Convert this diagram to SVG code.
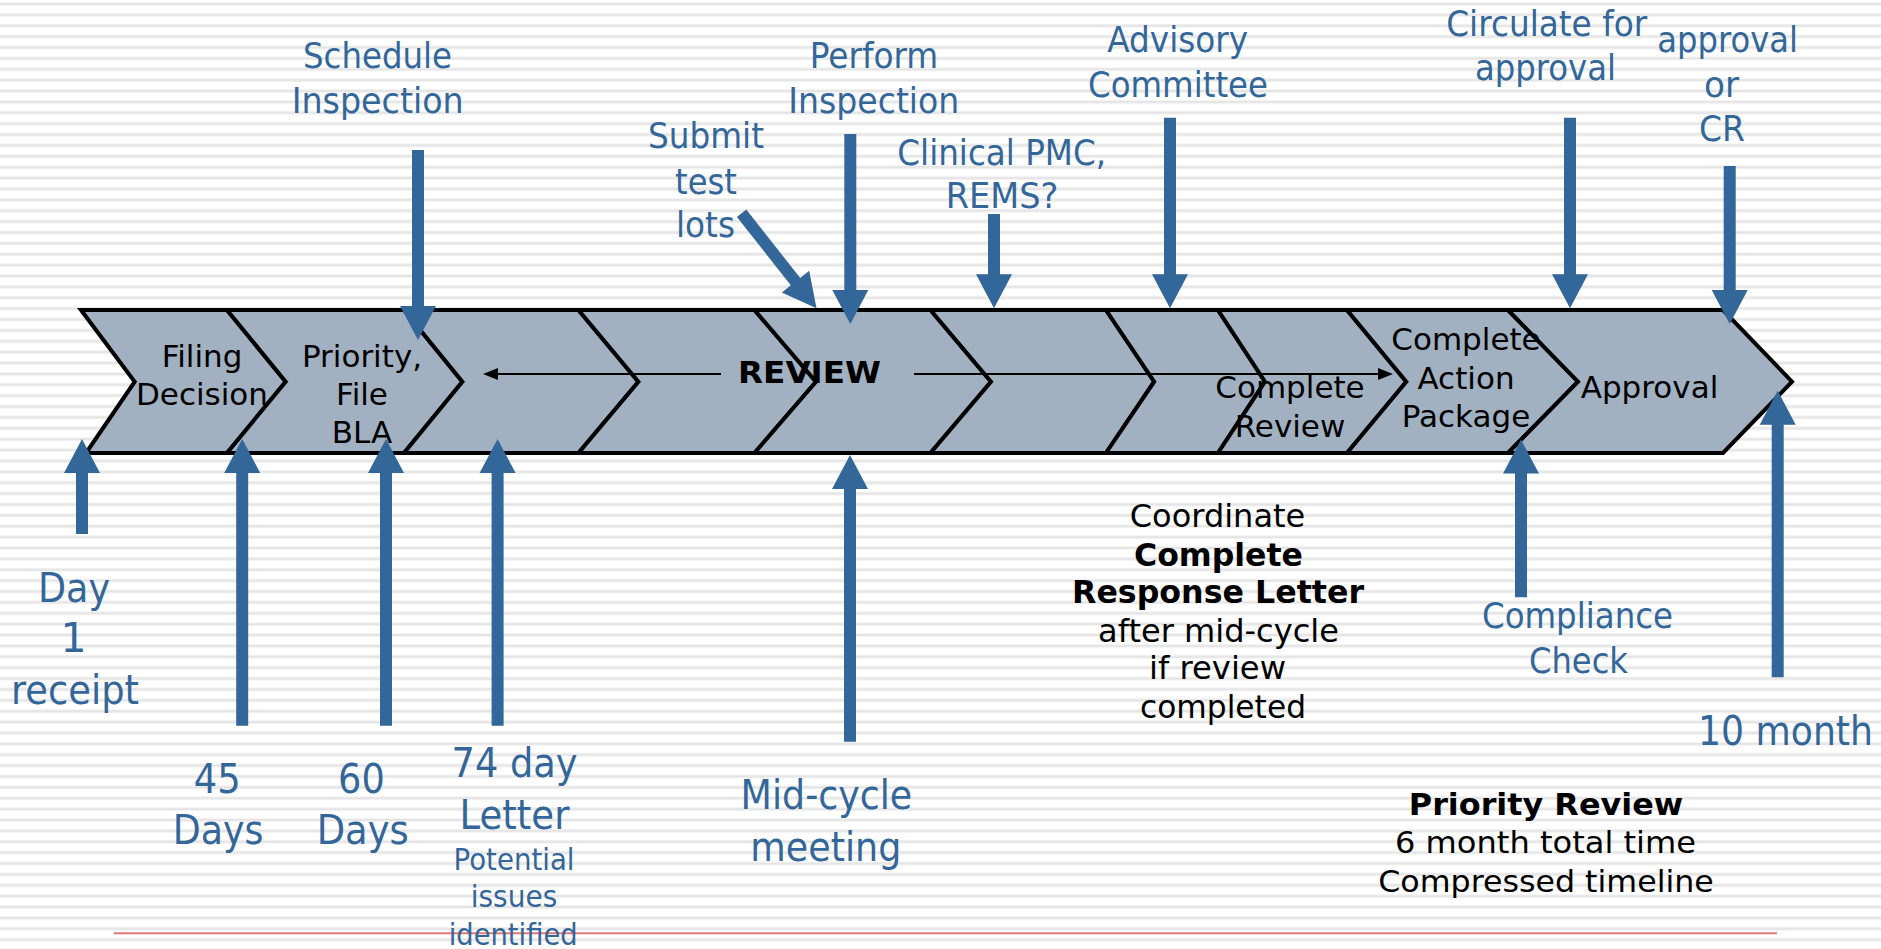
<svg xmlns="http://www.w3.org/2000/svg" width="1881" height="949" viewBox="0 0 1881 949">
<defs>
<pattern id="stripes" x="0" y="0" width="40" height="10.88" patternUnits="userSpaceOnUse">
<rect x="0" y="2.4" width="40" height="3.2" fill="#ebebeb"/>
<rect x="0" y="3.5" width="40" height="1" fill="#e0e0e0"/>
</pattern>
<style>
.chev{fill:#a2b1c1;stroke:#000;stroke-width:4;stroke-linejoin:miter}
.ct{font-family:"DejaVu Sans","Liberation Sans",sans-serif;font-size:31px;fill:#000;text-anchor:middle}
.bl{font-family:"DejaVu Sans","Liberation Sans",sans-serif;fill:#336699;text-anchor:middle}
.bk{font-family:"DejaVu Sans","Liberation Sans",sans-serif;fill:#000;text-anchor:middle}
.s36{font-size:35.5px}
.s41{font-size:41px}
.s31{font-size:31px}
.s32{font-size:32px}
.b{font-weight:bold}
.arr{fill:#336699}
.line{stroke:#000;stroke-width:2;fill:none}
</style>
</defs>
<rect width="1881" height="949" fill="#ffffff"/>
<rect width="1881" height="949" fill="url(#stripes)"/>
<line x1="114" y1="933.3" x2="1777" y2="933.3" stroke="#e07878" stroke-width="2"/>

<g id="chevrons">
<g id="c1"><polygon class="chev" points="81,310 227,310 285.7,381.7 227,453 86,453 134.7,381.7"/></g>
<g id="c2"><polygon class="chev" points="227,310 404,310 462.4,381.7 404,453 227,453 285.7,381.7"/></g>
<g id="c3"><polygon class="chev" points="404,310 578.5,310 638.4,381.7 578.5,453 404,453 462.4,381.7"/></g>
<g id="c4"><polygon class="chev" points="578.5,310 754.5,310 816,381.7 754.5,453 578.5,453 638.4,381.7"/></g>
<g id="c5"><polygon class="chev" points="754.5,310 930.5,310 991,381.7 930.5,453 754.5,453 816,381.7"/></g>
<g id="c6"><polygon class="chev" points="930.5,310 1106,310 1154.2,381.7 1106,453 930.5,453 991,381.7"/></g>
<g id="c7"><polygon class="chev" points="1106,310 1218,310 1265,381.7 1218,453 1106,453 1154.2,381.7"/></g>
<g id="c8"><polygon class="chev" points="1218,310 1347,310 1406.3,381.7 1347,453 1218,453 1265,381.7"/></g>
<g id="c9"><polygon class="chev" points="1347,310 1508,310 1578,381.7 1508,453 1347,453 1406.3,381.7"/></g>
<g id="c10"><polygon class="chev" points="1508,310 1723,310 1792,381.7 1723,453 1508,453 1578,381.7"/></g>
</g>

<g id="chevron-labels">
<g id="filing"><text class="ct" x="202" y="367">Filing</text><text class="ct" x="202" y="405">Decision</text></g>
<g id="priority"><text class="ct" x="362" y="367">Priority,</text><text class="ct" x="362" y="405">File</text><text class="ct" x="362" y="443">BLA</text></g>
<g id="review"><text class="ct b" x="809.5" y="382.7" textLength="143" lengthAdjust="spacingAndGlyphs">REVIEW</text></g>
<g id="complete-review"><text class="ct" x="1290" y="398">Complete</text><text class="ct" x="1290" y="437">Review</text></g>
<g id="complete-action"><text class="ct" x="1466" y="350">Complete</text><text class="ct" x="1466" y="388.5">Action</text><text class="ct" x="1466" y="427">Package</text></g>
<g id="approval"><text class="ct" x="1649.5" y="398">Approval</text></g>
</g>

<g id="connectors">
<line class="line" x1="496" y1="374" x2="721" y2="374"/>
<polygon points="483,374 498,368 498,380" fill="#000"/>
<line class="line" x1="914" y1="374" x2="1380" y2="374"/>
<polygon points="1393,374 1378,368 1378,380" fill="#000"/>
<path class="arr" d="M412,150 H424 V306 H436 L418,340 L400,306 H412 Z"/>
<path class="arr" d="M844.3,134 H856.3 V290 H868.3 L850.3,324 L832.3,290 H844.3 Z"/>
<path class="arr" d="M988,214 H1000 V274.3 H1012 L994,308.3 L976,274.3 H988 Z"/>
<path class="arr" d="M1164,117.7 H1176 V274.3 H1188 L1170,308.3 L1152,274.3 H1164 Z"/>
<path class="arr" d="M1564,117.7 H1576 V274.3 H1588 L1570,308.3 L1552,274.3 H1564 Z"/>
<path class="arr" d="M1723.7,166 H1735.7 V290 H1747.7 L1729.7,324 L1711.7,290 H1723.7 Z"/>
<path class="arr" d="M746.3,209.6 L800.2,277.9 L809.2,270.8 L816.5,308.3 L781.8,292.4 L790.8,285.3 L736.9,217 Z"/>
<path class="arr" d="M76,534 H88 V473 H100 L82,439 L64,473 H76 Z"/>
<path class="arr" d="M236.2,725.7 H248.2 V473 H260.2 L242.2,439 L224.2,473 H236.2 Z"/>
<path class="arr" d="M380,725.7 H392 V473 H404 L386,439 L368,473 H380 Z"/>
<path class="arr" d="M491.6,725.7 H503.6 V473 H515.6 L497.6,439 L479.6,473 H491.6 Z"/>
<path class="arr" d="M844,741.7 H856 V489 H868 L850,455 L832,489 H844 Z"/>
<path class="arr" d="M1515,597.3 H1527 V473.5 H1539 L1521,439.5 L1503,473.5 H1515 Z"/>
<path class="arr" d="M1771.7,677.3 H1783.7 V424.7 H1795.7 L1777.7,390.7 L1759.7,424.7 H1771.7 Z"/>
</g>

<g id="schedule-inspection">
<text class="bl s36" x="377.5" y="68.3" textLength="149" lengthAdjust="spacingAndGlyphs">Schedule</text>
<text class="bl s36" x="377.7" y="113.3" textLength="172" lengthAdjust="spacingAndGlyphs">Inspection</text>
</g>
<g id="submit-test-lots">
<text class="bl s36" x="706" y="148.3" textLength="116" lengthAdjust="spacingAndGlyphs">Submit</text>
<text class="bl s36" x="706" y="194" textLength="62" lengthAdjust="spacingAndGlyphs">test</text>
<text class="bl s36" x="705.5" y="237.3" textLength="59" lengthAdjust="spacingAndGlyphs">lots</text>
</g>
<g id="perform-inspection">
<text class="bl s36" x="874" y="68.3" textLength="128.6" lengthAdjust="spacingAndGlyphs">Perform</text>
<text class="bl s36" x="873.8" y="113.3" textLength="171" lengthAdjust="spacingAndGlyphs">Inspection</text>
</g>
<g id="clinical-pmc">
<text class="bl s36" x="1001.7" y="165" textLength="208.7" lengthAdjust="spacingAndGlyphs">Clinical PMC,</text>
<text class="bl s36" x="1002" y="208.3" textLength="112.6" lengthAdjust="spacingAndGlyphs">REMS?</text>
</g>
<g id="advisory-committee">
<text class="bl s36" x="1177.7" y="51.7" textLength="141" lengthAdjust="spacingAndGlyphs">Advisory</text>
<text class="bl s36" x="1178" y="97.3" textLength="180" lengthAdjust="spacingAndGlyphs">Committee</text>
</g>
<g id="circulate">
<text class="bl s36" x="1546.7" y="36" textLength="201" lengthAdjust="spacingAndGlyphs">Circulate for</text>
<text class="bl s36" x="1545.5" y="80" textLength="141" lengthAdjust="spacingAndGlyphs">approval</text>
</g>
<g id="approval-or-cr">
<text class="bl s36" x="1727.7" y="51.7" textLength="140.7" lengthAdjust="spacingAndGlyphs">approval</text>
<text class="bl s36" x="1721.5" y="96.7" textLength="35" lengthAdjust="spacingAndGlyphs">or</text>
<text class="bl s36" x="1722" y="141" textLength="46" lengthAdjust="spacingAndGlyphs">CR</text>
</g>
<g id="compliance-check">
<text class="bl s36" x="1577.5" y="628.3" textLength="191" lengthAdjust="spacingAndGlyphs">Compliance</text>
<text class="bl s36" x="1578.5" y="672.7" textLength="99" lengthAdjust="spacingAndGlyphs">Check</text>
</g>
<g id="day1">
<text class="bl s41" x="74" y="601.7" textLength="72" lengthAdjust="spacingAndGlyphs">Day</text>
<text class="bl s41" x="73.5" y="652.3">1</text>
<text class="bl s41" x="75" y="704.3" textLength="128" lengthAdjust="spacingAndGlyphs">receipt</text>
</g>
<g id="day45">
<text class="bl s41" x="217.3" y="793.3" textLength="47" lengthAdjust="spacingAndGlyphs">45</text>
<text class="bl s41" x="218.2" y="844.3" textLength="90.7" lengthAdjust="spacingAndGlyphs">Days</text>
</g>
<g id="day60">
<text class="bl s41" x="361.4" y="793.3" textLength="46.7" lengthAdjust="spacingAndGlyphs">60</text>
<text class="bl s41" x="362.7" y="844.3" textLength="92" lengthAdjust="spacingAndGlyphs">Days</text>
</g>
<g id="day74">
<text class="bl s41" x="514.6" y="776.7" textLength="126" lengthAdjust="spacingAndGlyphs">74 day</text>
<text class="bl s41" x="514.4" y="829.3" textLength="110" lengthAdjust="spacingAndGlyphs">Letter</text>
<text class="bl s31" x="514" y="870" textLength="121" lengthAdjust="spacingAndGlyphs">Potential</text>
<text class="bl s31" x="514" y="906.7" textLength="86.5" lengthAdjust="spacingAndGlyphs">issues</text>
<text class="bl s31" x="513.2" y="945" textLength="129" lengthAdjust="spacingAndGlyphs">identified</text>
</g>
<g id="mid-cycle">
<text class="bl s41" x="826.4" y="809.3" textLength="171.6" lengthAdjust="spacingAndGlyphs">Mid-cycle</text>
<text class="bl s41" x="825.8" y="861" textLength="151" lengthAdjust="spacingAndGlyphs">meeting</text>
</g>
<g id="month10">
<text class="bl s41" x="1785.5" y="745" textLength="175" lengthAdjust="spacingAndGlyphs">10 month</text>
</g>
<g id="coordinate-note">
<text class="bk s32" x="1217.5" y="526.7" textLength="175.5" lengthAdjust="spacingAndGlyphs">Coordinate</text>
<text class="bk s32 b" x="1218.5" y="565.7" textLength="169" lengthAdjust="spacingAndGlyphs">Complete</text>
<text class="bk s32 b" x="1218" y="603.3" textLength="292" lengthAdjust="spacingAndGlyphs">Response Letter</text>
<text class="bk s32" x="1218.5" y="641.7" textLength="241" lengthAdjust="spacingAndGlyphs">after mid-cycle</text>
<text class="bk s32" x="1217.5" y="679.3" textLength="137" lengthAdjust="spacingAndGlyphs">if review</text>
<text class="bk s32" x="1223" y="718.3" textLength="166" lengthAdjust="spacingAndGlyphs">completed</text>
</g>
<g id="priority-review-note">
<text class="bk s31 b" x="1546" y="815" textLength="274.4" lengthAdjust="spacingAndGlyphs">Priority Review</text>
<text class="bk s31" x="1545.5" y="853.3" textLength="301" lengthAdjust="spacingAndGlyphs">6 month total time</text>
<text class="bk s31" x="1546" y="891.7" textLength="335.6" lengthAdjust="spacingAndGlyphs">Compressed timeline</text>
</g>
</svg>
